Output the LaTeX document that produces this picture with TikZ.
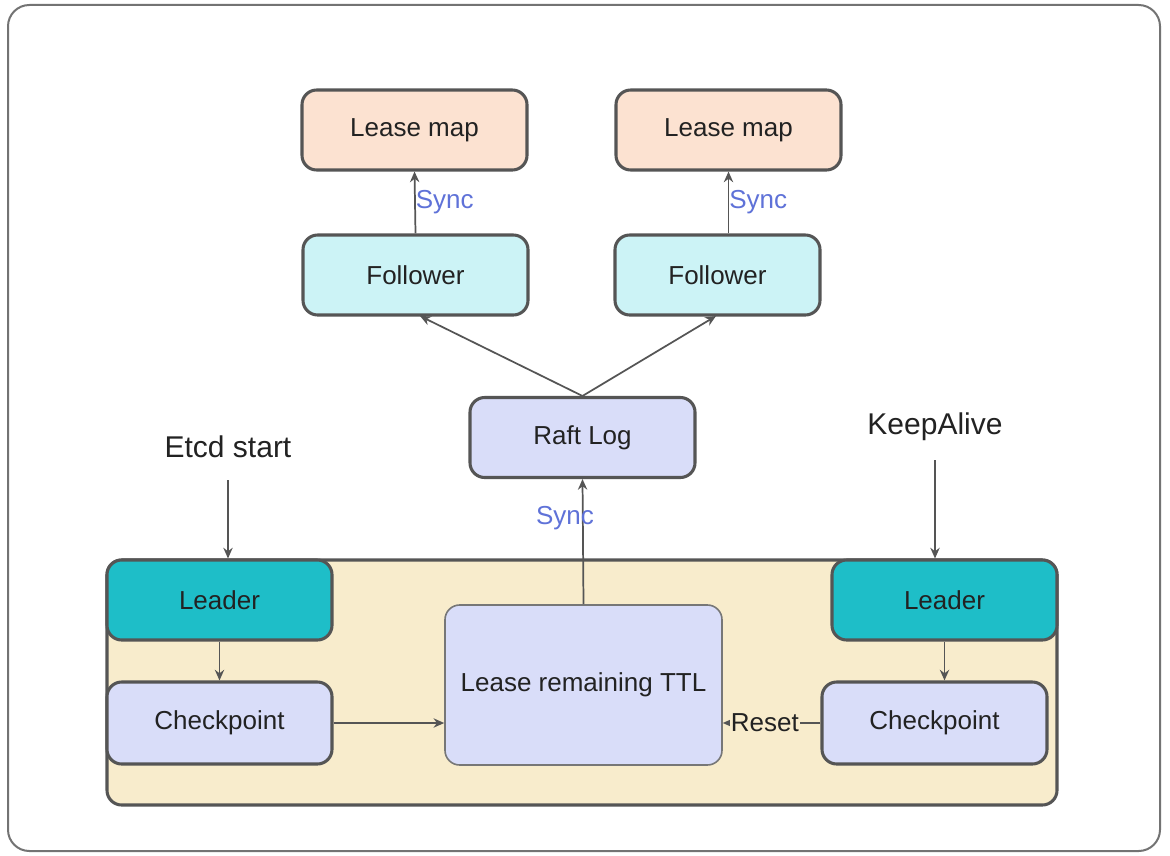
\documentclass[tikz,border=0pt]{standalone}
\usepackage{fontspec}
\setmainfont{Liberation Sans}
\usetikzlibrary{arrows.meta,positioning}
\definecolor{peach}{HTML}{FCE2D1}
\definecolor{lcyan}{HTML}{CCF3F6}
\definecolor{lav}{HTML}{D9DDF9}
\definecolor{teal2}{HTML}{1EBEC8}
\definecolor{cream}{HTML}{F8ECCC}
\definecolor{bord}{HTML}{555555}
\definecolor{syncblue}{HTML}{5F72D8}
\definecolor{txt}{HTML}{222222}
\tikzset{
  box/.style={draw=bord, line width=2.3pt, rounded corners=11pt, minimum width=168.75pt, minimum height=60pt, inner sep=0pt, text=txt, font=\fontsize{19.5}{23}\selectfont},
  conn/.style={draw=bord, line width=1.3pt, -{Stealth[length=8pt,width=7pt]}},
  synclbl/.style={text=syncblue, font=\fontsize{19.5}{23}\selectfont, inner sep=1pt},
  bigtxt/.style={text=txt, font=\fontsize{22.5}{27}\selectfont, inner sep=0pt}
}
\begin{document}
\begin{tikzpicture}[x=0.75pt,y=-0.75pt]
\useasboundingbox (0,0) rectangle (1170,856);
% outer frame
\draw[draw=gray!90!black, line width=1.5pt, rounded corners=16pt, fill=white] (8,5) rectangle (1160,851);
% container
\node[draw=bord, line width=2.3pt, rounded corners=11pt, fill=cream, minimum width=712.5pt, minimum height=183.75pt, inner sep=0pt] (cont) at (582,682.5) {};
% nodes
\node[box, fill=peach] (lm1) at (414.5,130) {Lease map};
\node[box, fill=peach] (lm2) at (728.5,130) {Lease map};
\node[box, fill=lcyan] (f1) at (415.5,275) {Follower};
\node[box, fill=lcyan, minimum width=153.75pt] (f2) at (717.5,275) {Follower};
\node[box, fill=lav] (raft) at (582.5,437.5) {Raft Log};
\node[box, fill=teal2] (ld1) at (219.5,600) {Leader};
\node[box, fill=lav, minimum height=61.5pt] (cp1) at (219.5,723) {Checkpoint};
\node[box, fill=teal2] (ld2) at (944.5,600) {Leader};
\node[box, fill=lav, minimum height=61.5pt] (cp2) at (934.5,723) {Checkpoint};
\node[box, fill=lav, draw=bord!80, line width=1.2pt, minimum width=207.75pt, minimum height=120pt] (ttl) at (583.5,685) {Lease remaining TTL};
\node[bigtxt] (etcd) at (228,447) {Etcd start};
\node[bigtxt] (ka) at (935,427) {KeepAlive};
\coordinate (etcdin) at (228,480);
\coordinate (kain) at (935,460);
\coordinate (f1in) at (420,316);
\coordinate (f2in) at (716,316);
% connectors
\draw[conn] (etcdin) -- (etcdin |- ld1.north);
\draw[conn] (kain) -- (kain |- ld2.north);
\draw[conn] (ld1.south) -- (cp1.north);
\draw[conn] (ld2.south) -- (ld2.south |- cp2.north);
\draw[conn] (cp1.east) -- (cp1.east -| ttl.west);
\draw[conn] (cp2.west) -- (cp2.west -| ttl.east) node[pos=0.57, fill=cream, inner sep=1pt, text=txt, font=\fontsize{19.5}{23}\selectfont] (rs) {Reset};
\draw[conn] (ttl.north) -- (raft.south);
\node[synclbl] (s3) at (565,518) {Sync};
\draw[conn] (raft.north) -- (f1in);
\draw[conn] (raft.north) -- (f2in);
\draw[conn] (f1.north) -- (lm1.south) node[midway, right=-1pt, synclbl] (s1) {Sync};
\draw[conn] (lm2.south |- f2.north) -- (lm2.south) node[midway, right=-1pt, synclbl] (s2) {Sync};
\end{tikzpicture}
\end{document}
